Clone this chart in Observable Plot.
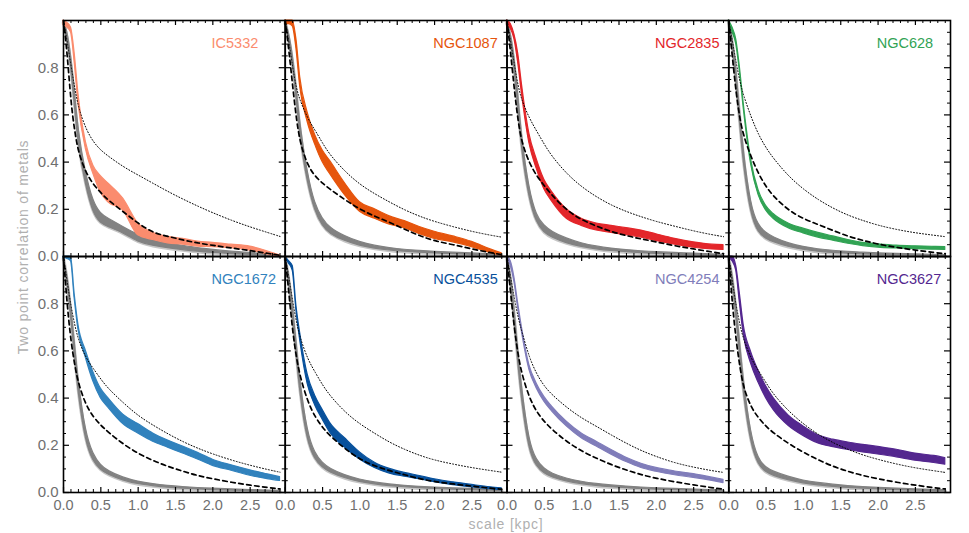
<!DOCTYPE html>
<html><head><meta charset="utf-8">
<script src="https://cdn.jsdelivr.net/npm/d3@7"></script>
<script src="https://cdn.jsdelivr.net/npm/@observablehq/plot@0.6"></script>
<style>body{margin:0;background:#fff;} #chart{width:969px;height:533px;}</style>
</head><body><div id="chart"></div>
<script>
// ---- data ----
const scale = [0, 0.05, 0.1, 0.15, 0.2, 0.3, 0.4, 0.5, 0.6, 0.8, 1.0, 1.2, 1.4, 1.6, 1.8, 2.0, 2.25, 2.5, 2.75, 2.9];
const galaxies = ["IC5332","NGC1087","NGC2835","NGC628","NGC1672","NGC4535","NGC4254","NGC3627"];
const galaxyColors = ["#fb8c6e","#e6550d","#e3262a","#31a354","#3182bd","#08519c","#807dba","#54278f"];
const xTickLabels = [0, 0.5, 1.0, 1.5, 2.0, 2.5];
const yTickLabels = [0, 0.2, 0.4, 0.6, 0.8];

const ic5332Lo     = [0.98,0.97,0.95,0.82,0.65,0.455,0.35,0.27,0.23,0.195,0.09,0.07,0.056,0.05,0.042,0.04,0.035,0.025,0.008,0.0];
const ic5332Hi     = [1.0,0.99,0.97,0.86,0.69,0.485,0.385,0.34,0.31,0.245,0.14,0.10,0.083,0.075,0.063,0.058,0.05,0.042,0.02,0.005];
const ic5332GreyLo = [0.99,0.93,0.81,0.65,0.47,0.3,0.18,0.14,0.125,0.1,0.06,0.045,0.035,0.027,0.02,0.015,0.01,0.007,0.003,0.0];
const ic5332GreyHi = [1.0,0.96,0.86,0.71,0.53,0.35,0.23,0.18,0.16,0.125,0.09,0.07,0.055,0.045,0.035,0.028,0.02,0.015,0.01,0.005];
const ic5332Dash   = [1.0,0.86,0.65,0.53,0.44,0.355,0.305,0.27,0.238,0.19,0.14,0.1,0.085,0.07,0.057,0.047,0.036,0.025,0.013,0.005];
const ic5332Dot    = [1.0,0.91,0.81,0.715,0.63,0.54,0.485,0.45,0.425,0.38,0.345,0.31,0.275,0.243,0.213,0.185,0.153,0.125,0.1,0.085];

const ngc1087Lo     = [0.985,0.985,0.975,0.88,0.72,0.57,0.475,0.40,0.35,0.26,0.19,0.16,0.135,0.12,0.095,0.075,0.06,0.04,0.015,0.003];
const ngc1087Hi     = [1.0,1.0,1.0,0.92,0.76,0.61,0.515,0.45,0.405,0.31,0.23,0.20,0.17,0.15,0.125,0.105,0.085,0.062,0.03,0.013];
const ngc1087GreyLo = [0.99,0.92,0.82,0.68,0.51,0.31,0.19,0.13,0.095,0.065,0.045,0.033,0.025,0.02,0.016,0.013,0.01,0.007,0.004,0.002];
const ngc1087GreyHi = [1.0,0.95,0.86,0.72,0.56,0.35,0.22,0.16,0.12,0.085,0.06,0.045,0.035,0.028,0.024,0.02,0.016,0.013,0.01,0.008];
const ngc1087Dash   = [1.0,0.87,0.72,0.58,0.48,0.385,0.34,0.31,0.285,0.24,0.2,0.17,0.145,0.115,0.088,0.066,0.05,0.032,0.016,0.008];
const ngc1087Dot    = [1.0,0.91,0.8,0.71,0.66,0.585,0.535,0.48,0.43,0.36,0.305,0.265,0.23,0.197,0.17,0.148,0.126,0.106,0.09,0.082];

const ngc2835Lo     = [0.98,0.965,0.92,0.82,0.69,0.48,0.37,0.285,0.235,0.16,0.13,0.11,0.1,0.09,0.08,0.066,0.05,0.037,0.03,0.028];
const ngc2835Hi     = [1.0,0.985,0.94,0.86,0.73,0.52,0.41,0.325,0.275,0.2,0.16,0.14,0.13,0.12,0.11,0.094,0.075,0.06,0.05,0.048];
const ngc2835GreyLo = [0.99,0.92,0.8,0.63,0.45,0.24,0.14,0.1,0.08,0.055,0.04,0.03,0.023,0.018,0.014,0.011,0.008,0.006,0.004,0.002];
const ngc2835GreyHi = [1.0,0.95,0.85,0.69,0.5,0.28,0.17,0.13,0.105,0.075,0.055,0.042,0.033,0.027,0.022,0.018,0.015,0.012,0.009,0.007];
const ngc2835Dash   = [1.0,0.86,0.7,0.57,0.48,0.395,0.34,0.3,0.26,0.195,0.155,0.128,0.105,0.088,0.074,0.062,0.045,0.032,0.019,0.012];
const ngc2835Dot    = [1.0,0.91,0.81,0.72,0.66,0.585,0.53,0.475,0.425,0.35,0.295,0.252,0.217,0.19,0.168,0.148,0.128,0.108,0.092,0.084];

const ngc628Lo     = [0.995,0.95,0.9,0.78,0.63,0.39,0.26,0.195,0.16,0.12,0.098,0.08,0.067,0.054,0.044,0.038,0.034,0.031,0.029,0.028];
const ngc628Hi     = [1.0,0.97,0.92,0.8,0.65,0.41,0.28,0.215,0.18,0.14,0.118,0.1,0.085,0.07,0.058,0.052,0.046,0.043,0.041,0.04];
const ngc628GreyLo = [0.99,0.9,0.75,0.57,0.39,0.17,0.1,0.075,0.06,0.04,0.028,0.02,0.015,0.012,0.009,0.007,0.005,0.004,0.002,0.001];
const ngc628GreyHi = [1.0,0.93,0.8,0.62,0.44,0.21,0.13,0.1,0.08,0.055,0.04,0.03,0.024,0.02,0.016,0.014,0.011,0.009,0.007,0.006];
const ngc628Dash   = [1.0,0.84,0.69,0.58,0.51,0.42,0.35,0.295,0.255,0.195,0.16,0.135,0.11,0.085,0.068,0.052,0.038,0.027,0.017,0.012];
const ngc628Dot    = [1.0,0.91,0.82,0.74,0.68,0.59,0.515,0.46,0.415,0.34,0.285,0.24,0.204,0.174,0.152,0.132,0.114,0.1,0.09,0.084];

const ngc1672Lo     = [0.995,0.99,0.98,0.82,0.69,0.57,0.47,0.40,0.36,0.29,0.25,0.215,0.19,0.165,0.14,0.113,0.092,0.071,0.056,0.049];
const ngc1672Hi     = [1.0,1.0,1.0,0.84,0.71,0.60,0.51,0.44,0.40,0.33,0.29,0.25,0.22,0.195,0.168,0.139,0.115,0.094,0.076,0.065];
const ngc1672GreyLo = [0.99,0.9,0.75,0.59,0.42,0.21,0.13,0.095,0.075,0.05,0.035,0.027,0.02,0.016,0.013,0.01,0.008,0.006,0.004,0.003];
const ngc1672GreyHi = [1.0,0.93,0.8,0.64,0.47,0.25,0.16,0.115,0.09,0.062,0.045,0.035,0.028,0.023,0.019,0.016,0.013,0.01,0.008,0.007];
const ngc1672Dash   = [1.0,0.79,0.64,0.54,0.46,0.37,0.32,0.285,0.255,0.205,0.165,0.135,0.11,0.09,0.071,0.058,0.043,0.031,0.02,0.015];
const ngc1672Dot    = [1.0,0.89,0.79,0.71,0.645,0.57,0.525,0.48,0.44,0.38,0.325,0.285,0.248,0.215,0.187,0.163,0.137,0.115,0.096,0.086];

const ngc4535Lo     = [0.995,0.97,0.94,0.77,0.645,0.46,0.37,0.31,0.255,0.19,0.14,0.104,0.08,0.067,0.056,0.044,0.031,0.022,0.014,0.01];
const ngc4535Hi     = [1.0,0.98,0.96,0.79,0.675,0.5,0.41,0.35,0.295,0.23,0.17,0.126,0.1,0.083,0.07,0.056,0.043,0.032,0.022,0.018];
const ngc4535GreyLo = [0.99,0.9,0.75,0.59,0.42,0.21,0.14,0.105,0.085,0.06,0.044,0.034,0.027,0.022,0.018,0.015,0.012,0.01,0.008,0.007];
const ngc4535GreyHi = [1.0,0.93,0.8,0.64,0.47,0.25,0.165,0.125,0.1,0.072,0.054,0.042,0.034,0.028,0.024,0.021,0.018,0.015,0.013,0.012];
const ngc4535Dash   = [1.0,0.84,0.68,0.57,0.49,0.385,0.32,0.275,0.24,0.185,0.14,0.112,0.092,0.075,0.058,0.046,0.036,0.027,0.018,0.014];
const ngc4535Dot    = [1.0,0.91,0.81,0.72,0.655,0.565,0.51,0.455,0.41,0.34,0.29,0.25,0.212,0.182,0.157,0.137,0.12,0.105,0.093,0.086];

const ngc4254Lo     = [0.995,0.96,0.89,0.78,0.68,0.52,0.44,0.385,0.345,0.28,0.23,0.195,0.16,0.129,0.104,0.088,0.073,0.062,0.049,0.04];
const ngc4254Hi     = [1.0,0.98,0.91,0.8,0.7,0.54,0.46,0.405,0.365,0.3,0.25,0.215,0.18,0.147,0.122,0.104,0.089,0.078,0.063,0.054];
const ngc4254GreyLo = [0.99,0.9,0.73,0.55,0.39,0.17,0.11,0.08,0.064,0.046,0.035,0.027,0.022,0.018,0.015,0.012,0.01,0.008,0.006,0.005];
const ngc4254GreyHi = [1.0,0.93,0.78,0.6,0.44,0.21,0.135,0.1,0.08,0.058,0.045,0.036,0.03,0.025,0.021,0.018,0.015,0.012,0.01,0.009];
const ngc4254Dash   = [1.0,0.84,0.69,0.58,0.5,0.4,0.34,0.3,0.268,0.215,0.175,0.145,0.117,0.095,0.075,0.06,0.045,0.032,0.02,0.014];
const ngc4254Dot    = [1.0,0.91,0.82,0.74,0.68,0.57,0.5,0.45,0.415,0.36,0.315,0.28,0.243,0.208,0.177,0.152,0.125,0.107,0.092,0.085];

const ngc3627Lo     = [0.995,0.98,0.94,0.80,0.67,0.545,0.465,0.40,0.35,0.283,0.24,0.208,0.192,0.18,0.17,0.161,0.149,0.135,0.125,0.118];
const ngc3627Hi     = [1.0,1.0,0.96,0.84,0.71,0.595,0.515,0.45,0.4,0.327,0.28,0.242,0.224,0.212,0.202,0.193,0.181,0.165,0.155,0.146];
const ngc3627GreyLo = [0.99,0.9,0.75,0.59,0.42,0.2,0.115,0.085,0.07,0.052,0.038,0.03,0.024,0.019,0.016,0.013,0.01,0.008,0.006,0.005];
const ngc3627GreyHi = [1.0,0.93,0.8,0.64,0.47,0.24,0.14,0.105,0.088,0.066,0.05,0.04,0.033,0.027,0.023,0.02,0.016,0.013,0.011,0.01];
const ngc3627Dash   = [1.0,0.79,0.64,0.53,0.44,0.36,0.315,0.28,0.252,0.207,0.17,0.138,0.11,0.089,0.071,0.058,0.043,0.031,0.02,0.015];
const ngc3627Dot    = [1.0,0.89,0.79,0.71,0.645,0.567,0.515,0.465,0.415,0.345,0.29,0.245,0.21,0.182,0.158,0.14,0.12,0.104,0.092,0.085];

// ---- build table ----
const seriesByGalaxy = [
  [ic5332Lo, ic5332Hi, ic5332GreyLo, ic5332GreyHi, ic5332Dash, ic5332Dot],
  [ngc1087Lo, ngc1087Hi, ngc1087GreyLo, ngc1087GreyHi, ngc1087Dash, ngc1087Dot],
  [ngc2835Lo, ngc2835Hi, ngc2835GreyLo, ngc2835GreyHi, ngc2835Dash, ngc2835Dot],
  [ngc628Lo, ngc628Hi, ngc628GreyLo, ngc628GreyHi, ngc628Dash, ngc628Dot],
  [ngc1672Lo, ngc1672Hi, ngc1672GreyLo, ngc1672GreyHi, ngc1672Dash, ngc1672Dot],
  [ngc4535Lo, ngc4535Hi, ngc4535GreyLo, ngc4535GreyHi, ngc4535Dash, ngc4535Dot],
  [ngc4254Lo, ngc4254Hi, ngc4254GreyLo, ngc4254GreyHi, ngc4254Dash, ngc4254Dot],
  [ngc3627Lo, ngc3627Hi, ngc3627GreyLo, ngc3627GreyHi, ngc3627Dash, ngc3627Dot]
];
const rows = [];
galaxies.forEach((g, i) => {
  const [lo, hi, glo, ghi, dash, dot] = seriesByGalaxy[i];
  scale.forEach((x, j) => rows.push({g, col: i % 4, row: Math.floor(i / 4), x,
    lo: lo[j], hi: hi[j], glo: glo[j], ghi: ghi[j], dash: dash[j], dot: dot[j]}));
});
const labels = galaxies.map((g, i) => ({g, col: i % 4, row: Math.floor(i / 4)}));

const W = 969, H = 533, mL = 63, mR = 19, mT = 20, mB = 41;
const facetW = (W - mL - mR) / 4, facetH = (H - mT - mB) / 2;
const xMinor = d3.range(1, 30).map(d => d / 10).filter(d => Math.abs(d * 2 - Math.round(d * 2)) > 1e-9);
const yMinor = d3.range(1, 20).map(d => d / 20).filter(d => Math.abs(d * 5 - Math.round(d * 5)) > 1e-9);
const fc = {fx: "col", fy: "row"};

const plot = Plot.plot({
  width: W, height: H,
  marginLeft: mL, marginRight: mR, marginTop: mT, marginBottom: mB,
  style: {fontFamily: "'Liberation Sans', Arial, sans-serif", background: "white"},
  fx: {axis: null, padding: 0, round: false},
  fy: {axis: null, padding: 0, round: false},
  x: {domain: [0, 2.97]},
  y: {domain: [0, 1]},
  color: {domain: galaxies, range: galaxyColors},
  marks: [
    // grey reference bands
    Plot.line(rows, {...fc, x: "x", y: "glo", z: "g", stroke: "#c6c6c6", strokeWidth: 3.5, curve: "basis"}),
    Plot.areaY(rows, {...fc, x: "x", y1: "glo", y2: "ghi", z: "g", fill: "#828282", stroke: "#828282", strokeWidth: 1.2, curve: "basis"}),
    // galaxy bands
    Plot.areaY(rows, {...fc, x: "x", y1: "lo", y2: "hi", z: "g", fill: "g", stroke: "g", strokeWidth: 1.2, curve: "monotone-x"}),
    // model curves
    Plot.line(rows, {...fc, x: "x", y: "dot", z: "g", stroke: "black", strokeWidth: 1, strokeDasharray: "1,2", curve: "basis"}),
    Plot.line(rows, {...fc, x: "x", y: "dash", z: "g", stroke: "black", strokeWidth: 1.7, strokeDasharray: "4.5,3.5", curve: "basis"}),
    // galaxy names
    Plot.text(labels, {...fc, text: "g", fill: "g", frameAnchor: "top-left", dx: 148, dy: 17, textAnchor: "start", fontSize: 14.5}),
    // inward ticks (major + minor) on all four sides
    Plot.tickX(xTickLabels, {x: d => d, insetTop: facetH - 5, stroke: "black", strokeWidth: 1.2}),
    Plot.tickX(xTickLabels, {x: d => d, insetBottom: facetH - 5, stroke: "black", strokeWidth: 1.2}),
    Plot.tickX(xMinor, {x: d => d, insetTop: facetH - 3, stroke: "black", strokeWidth: 1}),
    Plot.tickX(xMinor, {x: d => d, insetBottom: facetH - 3, stroke: "black", strokeWidth: 1}),
    Plot.tickY(yTickLabels, {y: d => d, insetRight: facetW - 6, stroke: "black", strokeWidth: 1.2}),
    Plot.tickY(yTickLabels, {y: d => d, insetLeft: facetW - 6, stroke: "black", strokeWidth: 1.2}),
    Plot.tickY(yMinor, {y: d => d, insetRight: facetW - 3, stroke: "black", strokeWidth: 1}),
    Plot.tickY(yMinor, {y: d => d, insetLeft: facetW - 3, stroke: "black", strokeWidth: 1}),
    Plot.frame({stroke: "black", strokeWidth: 1.6}),
    Plot.axisX(xTickLabels, {tickFormat: d3.format(".1f"), tickSize: 0, tickPadding: 7, fontSize: 14.5, color: "#6f6f6f", label: null}),
    Plot.axisY(yTickLabels, {tickFormat: d3.format(".1f"), tickSize: 0, tickPadding: 5, fontSize: 15, color: "#6f6f6f", label: null})
  ]
});

const svg = d3.select(plot);
svg.append("text")
  .attr("transform", "translate(24,247) rotate(-90)")
  .attr("text-anchor", "middle").attr("dominant-baseline", "middle")
  .attr("fill", "#b0b0b0").style("font-size", "14px").style("letter-spacing", "0.8px")
  .text("Two point correlation of metals");
svg.append("text")
  .attr("x", 506).attr("y", 525)
  .attr("text-anchor", "middle").attr("dominant-baseline", "middle")
  .attr("fill", "#b0b0b0").style("font-size", "14px").style("letter-spacing", "0.8px")
  .text("scale [kpc]");

document.getElementById("chart").appendChild(plot);
</script>
</body></html>
